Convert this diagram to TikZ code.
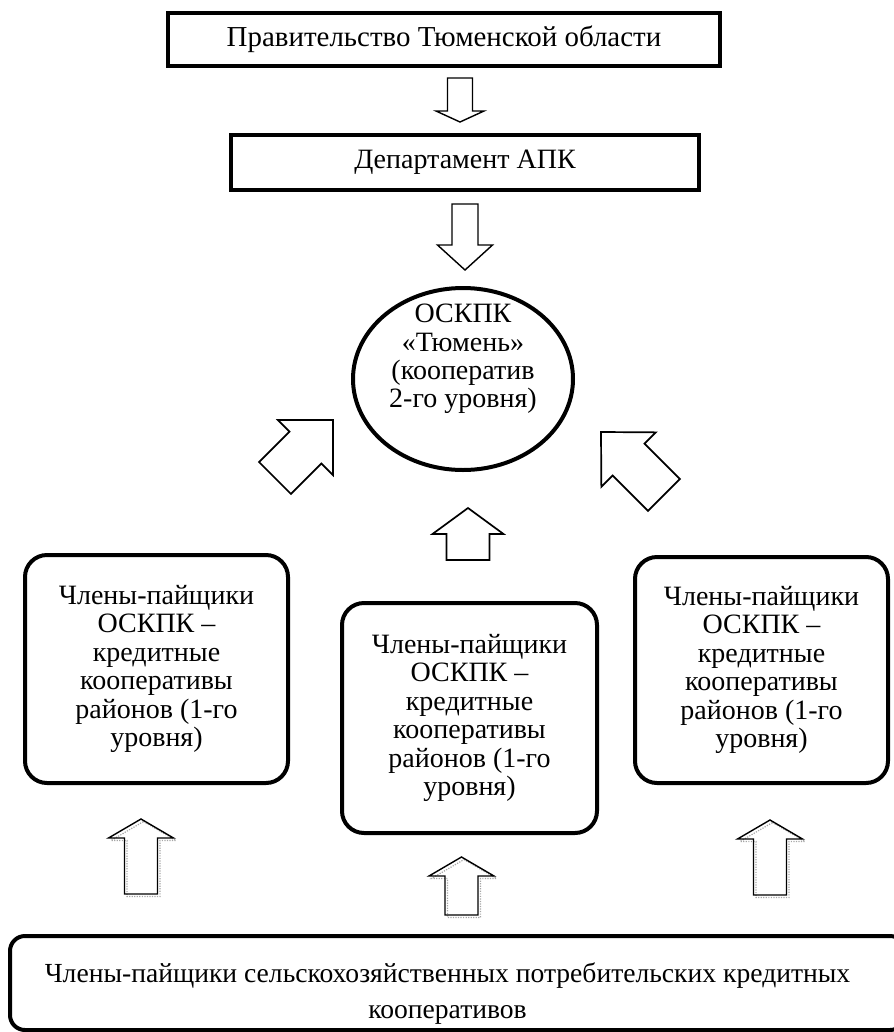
\documentclass[tikz,border=0pt]{standalone}
\usepackage{fontspec}
\setmainfont{Liberation Serif}
\usetikzlibrary{shapes.geometric}
\newcommand{\px}{0.75pt}
% hollow block arrow: [style]{tip x}{tip y}{angle}{length}{head length}{head width}{shaft width}
\newcommand{\blockarrow}[8][]{%
  \draw[blockline, #1, shift={(#2,#3)}, rotate=#4] (0,0) -- (-#6,#7/2) -- (-#6,#8/2) -- (-#5,#8/2)
    -- (-#5,-#8/2) -- (-#6,-#8/2) -- (-#6,-#7/2) -- cycle;}

\begin{document}
\begin{tikzpicture}[
    x=\px, y=-\px,
    font=\fontsize{21}{21.3}\selectfont,
    plainbox/.style={rectangle, draw, line width=4*\px, inner sep=0pt, text centered},
    oval/.style={ellipse, draw, line width=4*\px, inner sep=0pt},
    member/.style={rectangle, rounded corners=22*\px, draw, line width=4*\px, inner sep=0pt, align=center},
    blockline/.style={line width=1.4*\px, line join=miter},
    shadowline/.style={draw=gray!70, line width=1.2*\px, densely dotted}
]
    \useasboundingbox (0,0) rectangle (893,1032);

    % Top of the chain
    \node[plainbox, minimum width=552*\px, minimum height=53*\px, font=\fontsize{21.7}{22}\selectfont] (gov) at (444,39.5) {Правительство Тюменской области};
    \node[plainbox, minimum width=468*\px, minimum height=55*\px] (dept) at (465,162.5) {Департамент АПК};
    \node[oval, minimum width=220*\px, minimum height=182*\px,
        label={[align=center, yshift=20*\px]center:ОСКПК\\«Тюмень»\\(кооператив\\2-го уровня)}] (oskpk) at (463,379) {};

    % Members of the 1st level
    \node[member, minimum width=263*\px, minimum height=228*\px] (left) at (156.5,669) {Члены-пайщики\\ОСКПК –\\кредитные\\кооперативы\\районов (1-го\\уровня)};
    \node[member, minimum width=255*\px, minimum height=230*\px] (mid) at (469.5,718) {Члены-пайщики\\ОСКПК –\\кредитные\\кооперативы\\районов (1-го\\уровня)};
    \node[member, minimum width=253*\px, minimum height=226*\px] (right) at (761.5,670) {Члены-пайщики\\ОСКПК –\\кредитные\\кооперативы\\районов (1-го\\уровня)};

    % Base
    \node[member, rounded corners=15*\px, minimum width=895*\px, minimum height=94*\px,
        label={[align=center, xshift=-10*\px, yshift=-11*\px, font=\fontsize{20.7}{27}\selectfont]center:Члены-пайщики сельскохозяйственных потребительских кредитных\\кооперативов}] (base) at (457.5,983) {};

    % Block arrows
    \blockarrow{460}{122}{-90}{44}{11}{48}{25}
    \blockarrow{465}{270}{-90}{66}{25}{55}{26}
    \blockarrow[line width=1.7*\px]{333}{420}{45}{82}{39}{78}{45}
    \blockarrow[line width=1.7*\px]{601}{432}{135}{89}{39}{77}{45}
    \blockarrow[line width=1.7*\px]{468}{508}{90}{52}{26}{71}{43}

    % Block arrows with shadow
    \foreach \ax/\ay/\alen in {141/819/75, 461.5/857/58, 770/820/75} {
        \blockarrow[shadowline]{\ax+2.5}{\ay+2.5}{90}{\alen}{19}{65}{33}
        \blockarrow{\ax}{\ay}{90}{\alen}{19}{65}{33}
    }
\end{tikzpicture}
\end{document}
